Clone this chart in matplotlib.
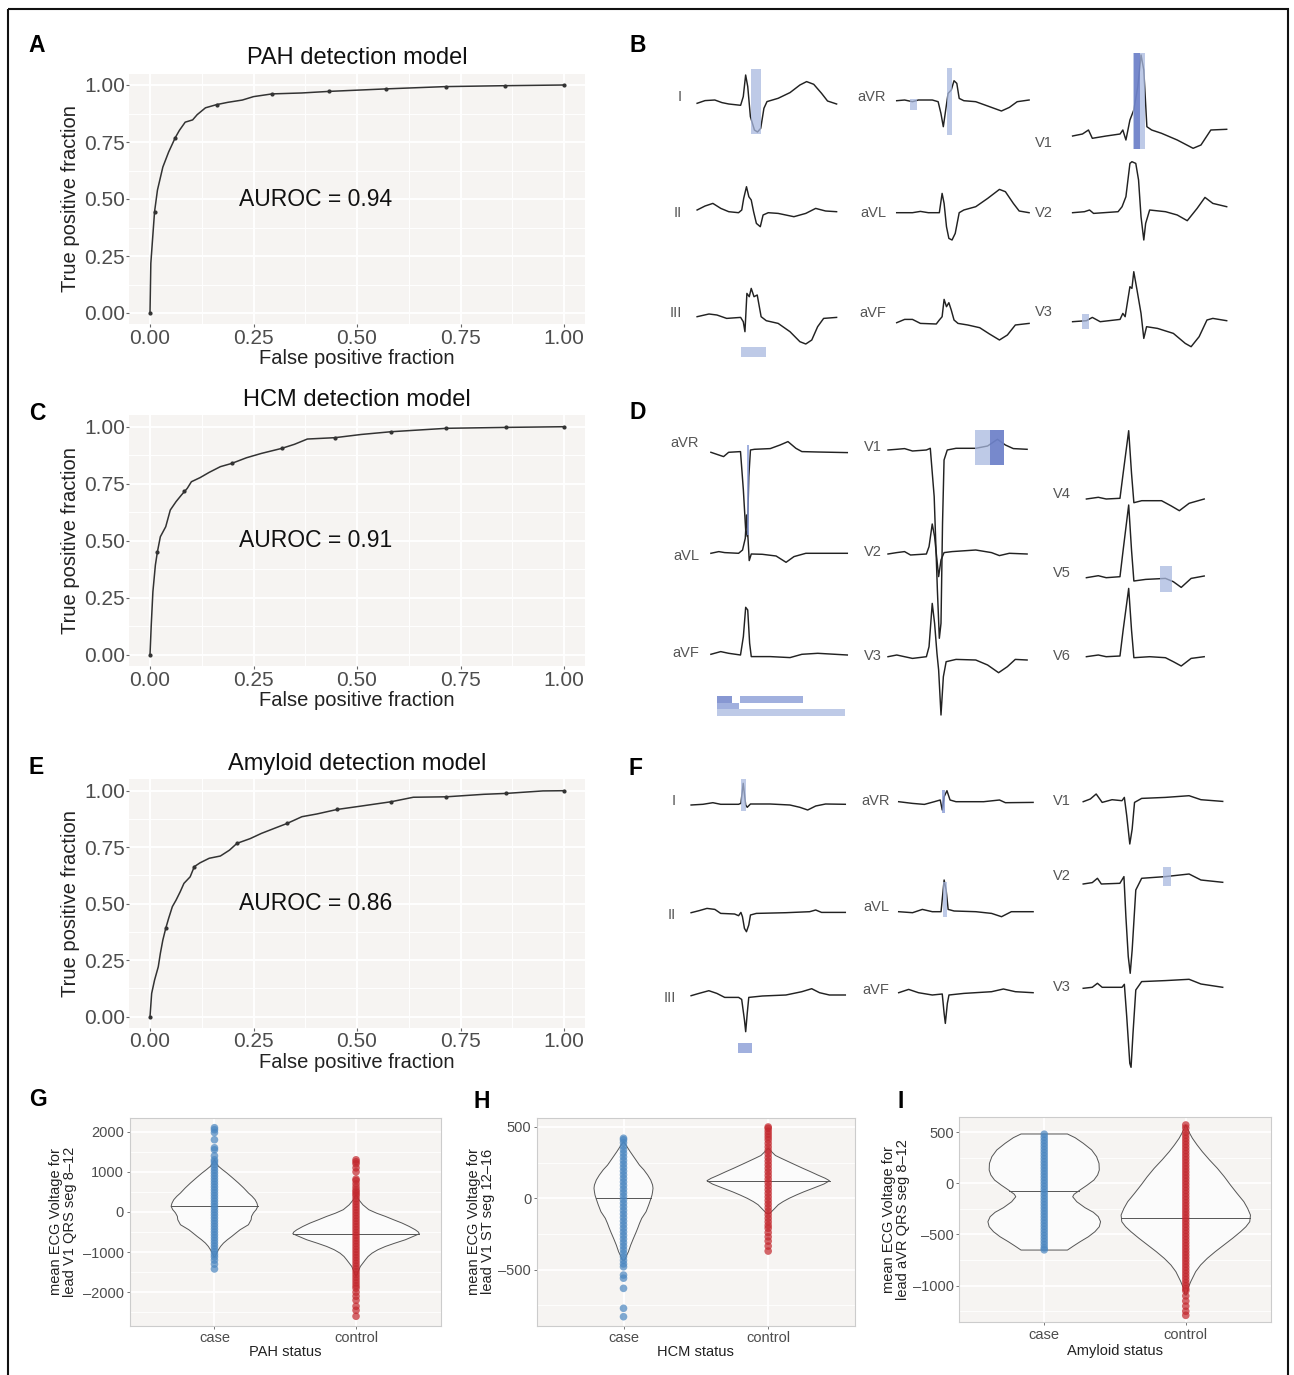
import matplotlib.pyplot as plt
from matplotlib.patches import Rectangle
import numpy as np

plt.rcParams['font.family'] = ['Liberation Sans', 'DejaVu Sans']

# ---------------- ROC curves (false positive fraction, true positive fraction)
pah_fpr = [0, 0.002, 0.011, 0.018, 0.031, 0.045, 0.061, 0.071, 0.085, 0.103, 0.114, 0.134, 0.161,
           0.188, 0.223, 0.25, 0.295, 0.366, 0.433, 0.571, 0.714, 0.857, 1.0]
pah_tpr = [0, 0.218, 0.444, 0.539, 0.640, 0.706, 0.769, 0.801, 0.837, 0.847, 0.870, 0.900, 0.914,
           0.924, 0.934, 0.949, 0.961, 0.965, 0.972, 0.983, 0.993, 0.997, 1.0]
pah_cut_fpr = [0, 0.011, 0.061, 0.161, 0.295, 0.433, 0.571, 0.714, 0.857, 1.0]
pah_cut_tpr = [0, 0.444, 0.769, 0.914, 0.961, 0.972, 0.983, 0.993, 0.997, 1.0]

hcm_fpr = [0, 0.003, 0.007, 0.013, 0.018, 0.025, 0.038, 0.049, 0.063, 0.076, 0.09, 0.1, 0.121, 0.143,
           0.17, 0.197, 0.233, 0.269, 0.318, 0.349, 0.38, 0.447, 0.51, 0.582, 0.716, 0.859, 1.0]
hcm_tpr = [0, 0.131, 0.277, 0.394, 0.453, 0.518, 0.562, 0.635, 0.672, 0.701, 0.73, 0.759, 0.777, 0.8,
           0.825, 0.839, 0.864, 0.883, 0.905, 0.923, 0.946, 0.952, 0.966, 0.978, 0.993, 0.997, 1.0]
hcm_cut_fpr = [0, 0.018, 0.083, 0.197, 0.318, 0.447, 0.582, 0.716, 0.859, 1.0]
hcm_cut_tpr = [0, 0.453, 0.72, 0.839, 0.905, 0.952, 0.978, 0.993, 0.997, 1.0]

amy_fpr = [0, 0.004, 0.011, 0.02, 0.025, 0.031, 0.038, 0.045, 0.054, 0.063, 0.073, 0.082, 0.097,
           0.107, 0.121, 0.143, 0.17, 0.192, 0.21, 0.242, 0.269, 0.304, 0.331, 0.367, 0.403, 0.452,
           0.51, 0.582, 0.636, 0.716, 0.806, 0.86, 0.949, 1.0]
amy_tpr = [0, 0.103, 0.162, 0.221, 0.28, 0.339, 0.391, 0.435, 0.487, 0.516, 0.553, 0.59, 0.619,
           0.664, 0.681, 0.701, 0.711, 0.737, 0.767, 0.788, 0.811, 0.836, 0.855, 0.885, 0.897, 0.917,
           0.932, 0.951, 0.971, 0.973, 0.984, 0.988, 0.999, 1.0]
amy_cut_fpr = [0, 0.038, 0.107, 0.21, 0.331, 0.452, 0.582, 0.716, 0.86, 1.0]
amy_cut_tpr = [0, 0.391, 0.664, 0.767, 0.855, 0.917, 0.951, 0.973, 0.988, 1.0]

roc_ticks = [0, 0.25, 0.5, 0.75, 1.0]
roc_tick_labels = ['0.00', '0.25', '0.50', '0.75', '1.00']

# ---------------- ECG traces: (time in % of beat, amplitude in px)
B_I = [(0, 0), (5.7, 2.7), (12.7, 3.3), (17.8, 0.7), (22.7, -0.7), (31.2, -2), (33.1, 6.7), (34.8, 28.3),
       (36.3, 16.7), (38.2, -13.3), (41.1, -26.7), (43.3, -28.7), (45.6, -25), (47.9, -5), (50.1, 1.7),
       (58.1, 5), (66.6, 10.7), (73.7, 18.3), (78.5, 21.7), (83.6, 19), (89.2, 10), (93.5, 2.3), (100, -0.7)]
B_II = [(0, 1.7), (5.7, 5.7), (11.3, 8.3), (17, 3.3), (22.7, 0), (29.7, -1), (32, 1.7), (33.4, 13.3),
        (35.4, 25), (37.1, 15), (38.8, 11.7), (40.5, 0), (42.5, -11.7), (45.3, -15), (47.3, -3.3), (51, -1),
        (58.1, -1.7), (69.4, -5), (77.9, -1.7), (85, 3.3), (92.1, 0.7), (100, 0)]
B_III = [(0, 0), (8.5, 2.7), (14.2, 1.7), (21.2, -1.7), (31.2, -0.7), (33.1, -5), (34.3, -15), (35.7, 23.3),
         (37.4, 20), (38.8, 28.3), (40.8, 20), (43.1, 21.7), (45.9, 0), (49.6, -4), (58.1, -6.7), (66.6, -15),
         (73.7, -25), (77.9, -27.3), (82.2, -23.3), (86.4, -10), (90.7, -1.7), (100, -0.7)]
B_aVR = [(0, 0), (6, 0.7), (11.9, -1), (16.4, 0.7), (26.9, 0.7), (31.3, -1), (33.4, -12.7), (35.2, -26),
         (37, -9.3), (38.8, 7.3), (41.2, 10.7), (43.3, 20), (45.4, 17.3), (47.2, 2.3), (50.7, 0), (59.7, -1),
         (68.7, -5.3), (79.1, -10.3), (85.1, -6.7), (91, -1), (100, 0.7)]
B_aVL = [(0, 0), (11.9, 0), (17.9, 1.3), (23.9, 0), (32.2, 0), (34.3, 19.3), (35.8, 9.3), (37.6, -14),
         (39.4, -25.7), (41.8, -27.3), (44.2, -20.7), (47.2, 0), (50.7, 2.7), (59.7, 6), (68.7, 14.3),
         (77.6, 23.3), (82.1, 21), (88.1, 9.3), (92.5, 1.7), (100, 0)]
B_aVF = [(0, 0), (6, 3.3), (11.9, 3.3), (17.9, -0.7), (29.9, -1.3), (32.2, 2.7), (34.3, 6), (35.8, 23.3),
         (37.6, 16), (39.4, 20), (41.2, 12.7), (43.3, 2.7), (46.3, -0.7), (53.7, -2.3), (62.7, -5),
         (70.1, -11.3), (77.6, -17.3), (83.6, -12.3), (89.6, -2.3), (100, -0.7)]
B_V1 = [(0, 0), (6.4, 2), (10.3, 6), (12.8, -2.3), (21.8, 0), (30.8, 2), (32.6, 6), (34.6, -4), (37.2, 16),
        (39.7, 26), (42.3, 49.3), (44.4, 81), (46.2, 66), (48.2, 9.3), (51.3, 6), (57.7, 2.7), (67.9, -4),
        (78.2, -12.3), (83.3, -9), (89.7, 6), (100, 6.7)]
B_V2 = [(0, 0), (7.7, 1), (11, 2.7), (13.6, -0.7), (29.5, 1), (32.1, 6), (34.6, 16), (37.2, 49.3),
        (38.5, 51), (41, 49.3), (42.8, 32.7), (44.4, -4), (46.2, -27.3), (47.4, -10.7), (50, 2.7), (60.3, 1),
        (67.9, -2.3), (74.4, -8), (80.8, 4.3), (85.9, 15.3), (91, 9.3), (100, 6)]
B_V3 = [(0, 0), (9, 1), (12.8, 4.3), (17.9, 0), (30.8, 2.3), (32.6, 8.3), (34.1, 5), (37.2, 35), (38.5, 33.3),
        (39.7, 50), (41.8, 31.7), (44.4, 8.3), (46.2, -16.7), (48, -5), (55.1, -6.7), (65.4, -11.7),
        (73.1, -21.7), (76.9, -25), (82.1, -15), (87.2, 1.7), (91, 3.3), (100, 1)]

D_aVR = [(0, 0), (5.8, -2.7), (9.3, -4.3), (13, 0), (21.7, 0.7), (23.8, -37.7), (25.5, -77.7), (26.7, -84.3),
         (27.8, -24.3), (29, 2.3), (31.9, 3), (43.5, 3.7), (50.7, 7.3), (56.5, 10.7), (62.3, 4), (66.7, 0.7),
         (78.3, 0.3), (100, -0.3)]
D_aVL = [(0, 0), (5.8, 1.7), (10.1, 0.7), (20.3, 0), (23.2, 3.3), (25.2, 15), (26.1, 38.3), (27, 20),
         (28.1, -7.3), (29.6, -0.7), (37.7, -1), (47.8, -2.7), (55.1, -9), (60.9, -3.3), (69.6, 0), (100, 0)]
D_aVF = [(0, 0), (7.2, 2.7), (13, 1), (21.7, -0.7), (23.8, 17.7), (25.5, 47), (27, 44.3), (28.4, 11),
         (29.6, -2.3), (43.5, -2.3), (58, -3.3), (66.7, 0), (78.3, 1), (100, -0.7)]
D_V1 = [(0, -0.7), (6.3, 0), (11.9, 0.7), (17.6, -1.7), (27.6, -0.7), (30.4, 1), (33.2, -47.3),
        (35.5, -140.7), (36.9, -189), (38.1, -174), (39.2, -74), (40.3, -10.7), (42.6, -0.7), (48.9, 1),
        (63.1, 1), (71.6, 3.3), (78.7, 10), (84.4, 4.3), (90.1, 0.7), (100, 0)]
D_V2 = [(0, -0.7), (6.3, 0.7), (11.9, 1.7), (16.2, -1.7), (27.6, -0.7), (29.5, 6.7), (31.8, 29.3),
        (33.5, 16.7), (34.7, 0), (36.4, -23.3), (38.1, -6.7), (40.3, 0.7), (46, 1.7), (63.1, 3.3),
        (74.4, 0.7), (80.1, -2.3), (87.2, 0), (100, -0.7)]
D_V3 = [(0, 0), (6.3, 1.7), (11.9, 0), (17.6, -1.7), (27.6, 0), (29.5, 10), (31.8, 53.3), (33.5, 33.3),
        (35.2, 3.3), (36.4, -13.3), (38.1, -58.3), (39.8, -20), (41.8, -5), (48.9, -2.7), (63.1, -3.3),
        (71.6, -8.3), (79.5, -16), (85.8, -10), (91.5, -2.7), (100, -3.3)]
D_V4 = [(0, 0), (10.1, 1.7), (16.8, 0), (28.5, 0.7), (31.2, 25.7), (35.9, 68.3), (38.3, 25.7), (40.3, -3.7),
        (47, -1.7), (63.8, -1.7), (72.1, -7), (78.9, -11.7), (87.2, -4.3), (100, 0)]
D_V5 = [(0, 0), (10.1, 2), (16.8, 0), (28.5, 1), (31.2, 27.7), (35.9, 72.7), (38.3, 27.7), (40.3, -3.3),
        (50.3, -1.7), (67.1, -0.7), (73.8, -4), (80.5, -9.7), (88.9, -0.7), (100, 1.7)]
D_V6 = [(0, 0), (10.1, 1.7), (16.8, 0), (28.5, 0.7), (31.2, 26.7), (35.9, 68.3), (38.3, 26.7), (40.3, -1),
        (53.7, 0), (67.1, -1), (73.8, -5), (80.5, -9.3), (88.9, -1.7), (100, 0)]

F_I = [(0, 0), (7.7, 0.7), (14.1, 2.3), (19.2, 0.7), (30.8, 0.7), (32.3, 1.7), (33.8, 21.7), (35.4, 0),
       (36.4, -2.3), (38.5, 1), (51.3, 1), (64.1, 0), (70.5, -2.3), (75.6, -5), (80.8, -1), (87.2, 1), (100, 0.7)]
F_II = [(0, 0), (5.1, 2), (10.3, 4.3), (15.4, 3.3), (19.2, -0.7), (28.2, -1.3), (30.8, -3), (32.3, 0.3),
        (33.3, -4), (34.6, -15.7), (35.9, -19), (37.4, -12.3), (38.5, -2.3), (42.3, -0.7), (61.5, 0),
        (76.9, 1), (80.8, 2.7), (84.6, 0.3), (100, 0.3)]
F_III = [(0, 0), (5.1, 2.3), (11.5, 5), (16.7, 2.3), (21.8, -1.7), (30.8, -1.7), (32.8, -3.7), (34.6, -24.3),
         (35.4, -36), (36.4, -17.7), (37.4, -1.7), (46.2, -0.3), (61.5, 0.7), (71.8, 4), (78.2, 7), (83.3, 3),
         (89.7, 0.7), (100, 0.7)]
F_aVR = [(0, 0), (10.3, -1.7), (19.1, -2.7), (26.5, 0), (30.9, 1.7), (32.4, -8.3), (33.8, 5), (35.9, 11),
         (38.2, 1.7), (42.6, 0), (63.2, 0), (75, 1.7), (79.4, -1), (100, -0.7)]
F_aVL = [(0, 0), (10.3, -1), (17.6, 2.3), (25, 0), (31.5, 0), (33.8, 31.7), (35.3, 21.7), (36.8, 2.3),
         (41.2, 0.7), (57.4, 0), (69.1, -1.7), (76.5, -5), (83.8, 0), (100, 0)]
F_aVF = [(0, 0), (7.4, 3.3), (14.7, 0), (25, -2.3), (32.4, -1.3), (33.8, -20.7), (34.7, -30.7), (36.2, -10.7),
         (37.4, -2.3), (48.5, -0.7), (69.1, 1), (77.9, 3.7), (86.8, 1), (100, 0)]
F_V1 = [(0, -1), (5.1, 1.7), (9.3, 6.7), (13.6, -1.7), (20.7, 1), (27.8, 0), (29.5, 3.3), (31.2, -15),
        (33.4, -43.3), (35.1, -28.3), (36.8, -1.7), (41.9, 2.3), (58.9, 3.3), (75.9, 5), (84.4, 1), (100, -0.7)]
F_V2 = [(0, -0.7), (6.5, 0.7), (10.2, 5), (13, -0.7), (26.3, 0), (29.2, 6.7), (30.6, -33.3), (32.3, -73.3),
        (33.7, -90), (35.1, -66.7), (37.7, -6.7), (41.9, 5), (58.9, 6.7), (75.9, 9.3), (84.4, 3.3), (100, 1)]
F_V3 = [(0, -1), (6.5, 0), (10.2, 4), (13.6, 0), (27.8, 0), (29.5, 3), (31.2, -29.3), (33.4, -76), (34.3, -80),
        (35.7, -46), (37.7, -2.7), (41.9, 5.7), (58.9, 6.7), (75.9, 8), (84.4, 3.3), (100, 0)]

# ---------------- violin plots: outline (value, half width), median, point values
g_case_y = [1307, 1220, 1140, 1060, 973, 850, 723, 600, 473, 390, 307, 220, 140, 60, -25, -110, -193,
            -318, -443, -530, -610, -690, -775, -860, -943, -1030, -1110]
g_case_w = [0, 0.012, 0.028, 0.055, 0.087, 0.128, 0.169, 0.206, 0.24, 0.266, 0.287, 0.3, 0.306, 0.295,
            0.275, 0.262, 0.259, 0.24, 0.181, 0.15, 0.122, 0.092, 0.064, 0.043, 0.028, 0.014, 0.005]
g_ctrl_y = [433, 307, 180, 57, -30, -110, -195, -277, -360, -443, -500, -543, -600, -693, -780, -860,
            -940, -1027, -1110, -1193, -1360, -1610]
g_ctrl_w = [0, 0.019, 0.048, 0.09, 0.145, 0.207, 0.266, 0.325, 0.375, 0.418, 0.44, 0.447, 0.41, 0.348,
            0.272, 0.207, 0.155, 0.113, 0.085, 0.066, 0.03, 0]
g_medians = [140, -543]
g_case_pts = [2100, 2050, 1980, 1800, 1600, 1550, 1400, 1300, 1250, 1180, 1110, 1040, 970, 900, 830, 760,
              690, 620, 550, 480, 410, 340, 270, 200, 130, 60, -10, -80, -150, -220, -290, -360, -430,
              -500, -570, -640, -710, -780, -850, -920, -990, -1060, -1120, -1200, -1300, -1420]
g_ctrl_pts = [1300, 1250, 1200, 1100, 1000, 820, 780, 700, 620, 550, 500, 450, 400, 330, 260, 190, 120,
              50, -20, -90, -160, -230, -300, -370, -440, -510, -580, -650, -720, -790, -860, -930,
              -1000, -1070, -1140, -1210, -1280, -1350, -1420, -1490, -1560, -1630, -1700, -1770, -1840,
              -1900, -2000, -2100, -2200, -2350, -2450, -2600]

h_case_y = [397, 360, 327, 280, 233, 200, 163, 128, 93, 70, 46, 23, 0, -47, -94, -140, -175, -210, -245,
            -280, -327, -374, -433]
h_case_w = [0, 0.025, 0.046, 0.078, 0.11, 0.14, 0.167, 0.188, 0.201, 0.204, 0.201, 0.197, 0.19, 0.174,
            0.156, 0.126, 0.111, 0.098, 0.084, 0.069, 0.05, 0.034, 0.007]
h_ctrl_y = [350, 327, 300, 280, 245, 210, 185, 163, 140, 123, 100, 70, 45, 23, 0, -23, -45, -70, -105]
h_ctrl_w = [0, 0.023, 0.05, 0.091, 0.165, 0.24, 0.296, 0.343, 0.395, 0.424, 0.385, 0.309, 0.245, 0.194,
            0.145, 0.103, 0.07, 0.046, 0.012]
h_medians = [0, 123]
h_case_pts = [421, 410, 390, 365, 340, 315, 290, 265, 240, 215, 190, 165, 140, 115, 90, 65, 40, 15, -10,
              -35, -60, -85, -110, -135, -160, -185, -210, -235, -260, -285, -310, -335, -360, -385, -410,
              -435, -460, -480, -538, -560, -631, -771, -830]
h_ctrl_pts = [500, 490, 470, 450, 430, 410, 385, 360, 335, 310, 285, 260, 235, 210, 185, 160, 135, 110,
              85, 60, 35, 10, -15, -40, -65, -90, -115, -140, -165, -190, -210, -240, -270, -300, -335, -370]

i_case_y = [482, 446, 391, 326, 260, 195, 130, 81, 32, -17, -65, -107, -131, -180, -238, -283, -326, -375,
            -424, -473, -522, -571, -613, -652]
i_case_w = [0.164, 0.218, 0.276, 0.335, 0.37, 0.387, 0.389, 0.377, 0.351, 0.304, 0.253, 0.211, 0.201,
            0.23, 0.288, 0.347, 0.382, 0.398, 0.389, 0.358, 0.312, 0.253, 0.206, 0.164]
i_ctrl_y = [570, 537, 490, 440, 375, 309, 228, 147, 65, -17, -98, -179, -245, -310, -375, -424, -473,
            -538, -603, -668, -733, -798, -863, -961, -1026, -1091]
i_ctrl_w = [0, 0.012, 0.027, 0.047, 0.08, 0.117, 0.168, 0.223, 0.272, 0.316, 0.362, 0.41, 0.437, 0.457,
            0.452, 0.425, 0.387, 0.33, 0.269, 0.208, 0.152, 0.105, 0.07, 0.035, 0.016, 0.005]
i_medians = [-72, -342]
i_case_pts = [480, 450, 420, 390, 360, 330, 300, 270, 240, 210, 180, 150, 120, 90, 60, 30, 0, -30, -60,
              -90, -120, -150, -180, -210, -240, -270, -300, -330, -360, -390, -420, -450, -480, -510,
              -540, -570, -600, -630, -650]
i_ctrl_pts = [570, 540, 500, 470, 440, 410, 380, 350, 320, 290, 260, 230, 200, 170, 140, 110, 80, 50, 20,
              -10, -40, -70, -100, -130, -160, -190, -220, -250, -280, -310, -340, -370, -400, -430, -460,
              -490, -520, -550, -580, -610, -640, -670, -700, -730, -760, -790, -820, -850, -880, -910,
              -940, -970, -1000, -1030, -1050, -1100, -1150, -1200, -1250, -1290]

groups = ['case', 'control']

# ---------------- styling
W, H = 1294, 1375
PANEL_BG = '#f6f4f2'
TXT = '#222222'
TICK_TXT = '#4d4d4d'
LIGHT, MEDIUM, DARK = '#a9b9e0', '#8296d4', '#5f74c4'
BLUE, RED = '#4a86c0', '#c3272d'

fig = plt.figure(figsize=(W / 100, H / 100), dpi=100)
canvas = fig.add_axes([0, 0, 1, 1])
canvas.set_xlim(0, W)
canvas.set_ylim(H, 0)
canvas.axis('off')


def px_axes(x0, y0, x1, y1):
    return fig.add_axes([x0 / W, 1 - y1 / H, (x1 - x0) / W, (y1 - y0) / H])


def draw_roc(box, fpr, tpr, cfpr, ctpr, title, auroc):
    x0, y0, x1, y1 = box
    ax = px_axes(x0, y0, x1, y1)
    ax.set_facecolor(PANEL_BG)
    ax.plot(fpr, tpr, color='#333333', lw=1.1)
    ax.scatter(cfpr, ctpr, s=4, color='#333333', zorder=3)
    ax.set_xlim(-0.05, 1.05)
    ax.set_ylim(-0.05, 1.05)
    ax.set_xticks(roc_ticks, roc_tick_labels)
    ax.set_yticks(roc_ticks, roc_tick_labels)
    ax.set_xticks([0.125, 0.375, 0.625, 0.875], minor=True)
    ax.set_yticks([0.125, 0.375, 0.625, 0.875], minor=True)
    ax.grid(which='major', color='white', lw=1.4)
    ax.grid(which='minor', color='white', lw=0.7)
    ax.set_axisbelow(True)
    for s in ax.spines.values():
        s.set_visible(False)
    ax.tick_params(which='major', length=2, width=0.8, color='#666666', labelsize=15,
                   labelcolor=TICK_TXT, pad=1)
    ax.tick_params(which='minor', length=0)
    ax.text(0.4, 0.5, f'AUROC = {auroc}', ha='center', va='center', fontsize=16.5, color='#111111')
    cx, cy = (x0 + x1) / 2, (y0 + y1) / 2
    canvas.text(cx, y0 - 15.5, title, ha='center', va='center', fontsize=17, color='#111111')
    canvas.text(cx, y1 + 34, 'False positive fraction', ha='center', va='center', fontsize=14.5, color=TXT)
    canvas.text(70, cy, 'True positive fraction', ha='center', va='center', rotation=90,
                fontsize=14.5, color=TXT)


draw_roc((129.3, 73.6, 584.7, 324.4), pah_fpr, pah_tpr, pah_cut_fpr, pah_cut_tpr, 'PAH detection model', '0.94')
draw_roc((129.3, 415.3, 584.7, 666.4), hcm_fpr, hcm_tpr, hcm_cut_fpr, hcm_cut_tpr, 'HCM detection model', '0.91')
draw_roc((129.3, 779.4, 584.7, 1028), amy_fpr, amy_tpr, amy_cut_fpr, amy_cut_tpr, 'Amyloid detection model', '0.86')


# ---------------- ECG panels (drawn on the pixel canvas)
def draw_ecg(columns, leads, highlights):
    traces = {}
    for name, trace, col, base, label_y in leads:
        x_start, width, label_x = columns[col]
        t = np.array([p[0] for p in trace])
        v = np.array([p[1] for p in trace])
        canvas.plot(x_start + t / 100 * width, base - v, color='#222222', lw=1.05, zorder=2)
        canvas.text(label_x, label_y, name, ha='right', va='center', fontsize=10.5, color='#555555')
        traces[name] = (x_start, width, base)
    for name, t0, t1, v_top, v_bot, color in highlights:
        x_start, width, base = traces[name]
        canvas.add_patch(Rectangle((x_start + t0 / 100 * width, base - v_top), (t1 - t0) / 100 * width,
                                   v_top - v_bot, facecolor=color, edgecolor='none', alpha=0.75, zorder=3))


draw_ecg(
    [(697.1, 139.5, 682), (896.7, 132.4, 886), (1072.6, 154.1, 1053)],
    [('I', B_I, 0, 103.3, 96.7), ('II', B_II, 0, 211.7, 212.7), ('III', B_III, 0, 316.7, 313.3),
     ('aVR', B_aVR, 1, 100.7, 96.7), ('aVL', B_aVL, 1, 212.7, 212.7), ('aVF', B_aVF, 1, 322.7, 312.7),
     ('V1', B_V1, 2, 136, 143.3), ('V2', B_V2, 2, 212.7, 212.7), ('V3', B_V3, 2, 321.7, 311.7)],
    [('I', 38.8, 45.9, 34, -31, LIGHT), ('aVR', 10.4, 15.5, 1.7, -9.3, LIGHT),
     ('aVR', 38.2, 41.8, 32.3, -34.3, LIGHT), ('III', 31.2, 49.6, -30, -40, LIGHT),
     ('V1', 39.2, 46.9, 82.7, -13.3, LIGHT), ('V1', 39.7, 43.6, 82.7, -13.3, DARK),
     ('V3', 5.9, 10.5, 7.3, -7.7, LIGHT)])

draw_ecg(
    [(710.9, 136.4, 699), (888, 139.1, 881.7), (1086.4, 117.8, 1070.6)],
    [('aVR', D_aVR, 0, 452.3, 443.3), ('aVL', D_aVL, 0, 553.3, 555.7), ('aVF', D_aVF, 0, 654.3, 653.3),
     ('V1', D_V1, 1, 449.3, 446.7), ('V2', D_V2, 1, 553.3, 551.7), ('V3', D_V3, 1, 656.7, 655.7),
     ('V4', D_V4, 2, 499, 494), ('V5', D_V5, 2, 577.7, 573.3), ('V6', D_V6, 2, 656.7, 655.7)],
    [('aVR', 26.1, 28.1, 7.3, -82.7, MEDIUM), ('V1', 62.5, 83.5, 19.3, -15.7, LIGHT),
     ('V1', 73, 83.5, 19.3, -15.7, DARK), ('V5', 62.4, 72.8, 12, -14, LIGHT),
     ('aVF', 4.3, 15.4, -41.7, -48.3, DARK), ('aVF', 21.2, 67.2, -41.7, -48.3, MEDIUM),
     ('aVF', 4.3, 20.9, -48.3, -55, MEDIUM), ('aVF', 4.3, 98, -55, -61.7, LIGHT)])

draw_ecg(
    [(691.1, 154.2, 676), (898.7, 134.4, 889.6), (1083.2, 139.5, 1070.6)],
    [('I', F_I, 0, 805, 800.7), ('II', F_II, 0, 912.7, 915), ('III', F_III, 0, 995.7, 998.3),
     ('aVR', F_aVR, 1, 801.7, 800.7), ('aVL', F_aVL, 1, 911.7, 906.7), ('aVF', F_aVF, 1, 992.7, 990),
     ('V1', F_V1, 2, 800.7, 800.7), ('V2', F_V2, 2, 883.3, 876), ('V3', F_V3, 2, 987.3, 987.3)],
    [('I', 32.1, 35.9, 25.7, -5.7, LIGHT), ('III', 30.3, 39.7, -47, -57.7, MEDIUM),
     ('aVR', 32.1, 34.4, 11.7, -11, MEDIUM), ('aVL', 33.2, 35.6, 30, -5, LIGHT),
     ('V2', 56.9, 62.6, 16, -2.7, LIGHT)])


# ---------------- violin panels
def draw_violin(box, ylim, yticks, ytick_labels, minor, outlines, medians, points,
                ylabel, ylabel_x, xlabel):
    x0, y0, x1, y1 = box
    ax = px_axes(x0, y0, x1, y1)
    ax.set_facecolor(PANEL_BG)
    for pos, (ys, ws), med, pts, col in zip([1, 2], outlines, medians, points, [BLUE, RED]):
        ys, ws = np.array(ys), np.array(ws)
        ax.fill(np.concatenate([pos - ws, (pos + ws)[::-1]]), np.concatenate([ys, ys[::-1]]),
                facecolor='#fbfbfb', edgecolor='#555555', lw=0.7, zorder=2)
        wm = np.interp(med, ys[::-1], ws[::-1])
        ax.plot([pos - wm, pos + wm], [med, med], color='#555555', lw=0.7, zorder=2)
        ax.scatter(np.full(len(pts), pos), pts, s=30, color=col, alpha=0.7, edgecolors='none', zorder=3)
    ax.set_xlim(0.4, 2.6)
    ax.set_ylim(*ylim)
    ax.set_xticks([1, 2], groups)
    ax.set_yticks(yticks, ytick_labels)
    ax.set_yticks(minor, minor=True)
    ax.grid(which='major', color='white', lw=1.3)
    ax.grid(which='minor', axis='y', color='white', lw=0.6)
    ax.set_axisbelow(True)
    for s in ax.spines.values():
        s.set_color('#cccccc')
        s.set_linewidth(0.8)
    ax.tick_params(which='major', length=2.5, width=0.7, color='#777777', labelsize=10.5,
                   labelcolor=TICK_TXT, pad=1.5)
    ax.tick_params(which='minor', length=0)
    canvas.text(ylabel_x, (y0 + y1) / 2, ylabel, ha='center', va='center', rotation=90,
                fontsize=10.5, color=TXT, linespacing=1.0)
    canvas.text((x0 + x1) / 2, 1351.5, xlabel, ha='center', va='center', fontsize=10.5, color=TXT)


draw_violin((129.5, 1117.7, 441, 1325.7), (-2835, 2350), [-2000, -1000, 0, 1000, 2000],
            ['\u20132000', '\u20131000', '0', '1000', '2000'], [-2500, -1500, -500, 500, 1500],
            [(g_case_y, g_case_w), (g_ctrl_y, g_ctrl_w)], g_medians, [g_case_pts, g_ctrl_pts],
            'mean ECG Voltage for\nlead V1 QRS seg 8\u201312', 63, 'PAH status')
draw_violin((536.7, 1117.7, 855, 1325.7), (-893, 565), [-500, 0, 500],
            ['\u2013500', '0', '500'], [-750, -250, 250],
            [(h_case_y, h_case_w), (h_ctrl_y, h_ctrl_w)], h_medians, [h_case_pts, h_ctrl_pts],
            'mean ECG Voltage for\nlead V1 ST seg 12\u201316', 481, 'HCM status')
draw_violin((959.3, 1116.7, 1270.7, 1322.3), (-1358, 651), [-1000, -500, 0, 500],
            ['\u20131000', '\u2013500', '0', '500'], [-1250, -750, -250, 250],
            [(i_case_y, i_case_w), (i_ctrl_y, i_ctrl_w)], i_medians, [i_case_pts, i_ctrl_pts],
            'mean ECG Voltage for\nlead aVR QRS seg 8\u201312', 896, 'Amyloid status')

# ---------------- panel letters and frame
for letter, lx, ly in [('A', 36.5, 45), ('B', 637.5, 45), ('C', 37.5, 413), ('D', 637.5, 412),
                       ('E', 36.5, 767), ('F', 636, 768), ('G', 38, 1100), ('H', 482, 1101),
                       ('I', 901, 1101)]:
    canvas.text(lx, ly, letter, ha='center', va='center', fontsize=16.5, fontweight='bold', color='black')

canvas.add_patch(Rectangle((7.5, 8.5), 1280, 1400, fill=False, edgecolor='#111111', lw=1.5, clip_on=False))

fig.savefig('out.png', dpi=100)
